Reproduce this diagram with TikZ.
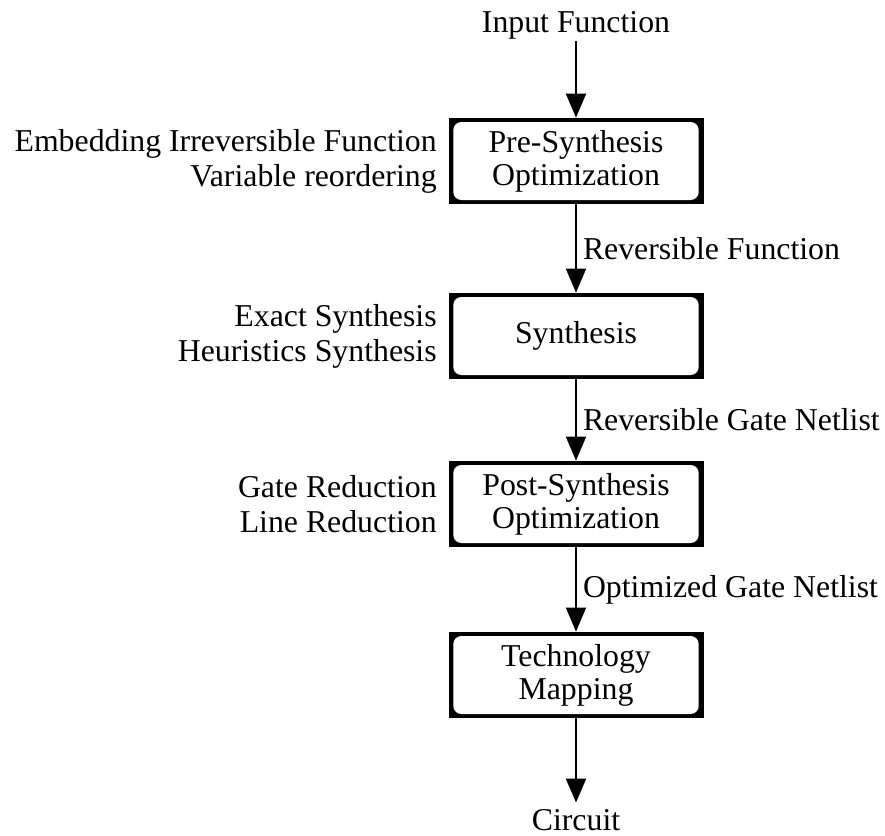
\documentclass[tikz,border=0pt]{standalone}
\usepackage{fontspec}
\setmainfont{Liberation Serif}
\usetikzlibrary{arrows.meta,positioning}

\begin{document}
\begin{tikzpicture}[x=0.5pt, y=-0.5pt,
    every node/.style={font=\fontsize{15.9}{16.5}\selectfont},
    stage/.style={rectangle, fill=black, inner sep=0pt, align=center,
        minimum width=127.5pt, minimum height=43pt,
        path picture={\fill[white, rounded corners=4pt]
            ([shift={(2.4pt,2pt)}]path picture bounding box.south west) rectangle
            ([shift={(-2.4pt,-2pt)}]path picture bounding box.north east);}},
    sidenote/.style={align=right, inner sep=0pt,
        font=\fontsize{15.9}{17.5}\selectfont},
    flow/.style={line width=1pt, -{Triangle[length=12pt, width=10pt]}},
    tag/.style={midway, right, inner sep=3pt}]

    \useasboundingbox (0,0) rectangle (885,836);

    % -----------------------------------------------------
    % 1) Entrada y salida
    % -----------------------------------------------------
    \node[anchor=base, inner sep=1pt] (input) at (576,32) {Input Function};
    \node[anchor=base, inner sep=3pt] (circuit) at (576,830) {Circuit};

    % -----------------------------------------------------
    % 2) Etapas del flujo
    % -----------------------------------------------------
    \node[stage] (pre)  at (576,161) {Pre-Synthesis\\Optimization};
    \node[stage] (syn)  at (576,336) {Synthesis};
    \node[stage] (post) at (576,504) {Post-Synthesis\\Optimization};
    \node[stage] (tech) at (576,675) {Technology\\Mapping};

    % -----------------------------------------------------
    % 3) Notas a la izquierda de cada etapa
    % -----------------------------------------------------
    \node[sidenote, left=5.5pt of pre]  (preNote)  {Embedding Irreversible Function\\Variable reordering};
    \node[sidenote, left=5.5pt of syn]  (synNote)  {Exact Synthesis\\Heuristics Synthesis};
    \node[sidenote, left=5.5pt of post] (postNote) {Gate Reduction\\Line Reduction};

    % -----------------------------------------------------
    % 4) Flechas entre etapas
    % -----------------------------------------------------
    \draw[flow] (input) -- (pre);
    \draw[flow] (pre) -- node[tag] {Reversible Function} (syn);
    \draw[flow] (syn) -- node[tag] {Reversible Gate Netlist} (post);
    \draw[flow] (post) -- node[tag] {Optimized Gate Netlist} (tech);
    \draw[flow] (tech) -- (circuit);

\end{tikzpicture}
\end{document}
